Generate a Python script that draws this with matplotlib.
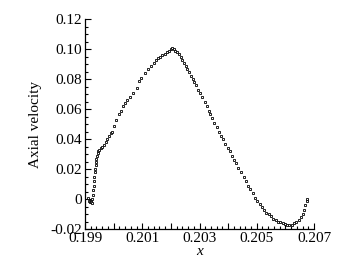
import matplotlib
matplotlib.use('Agg')
import matplotlib.pyplot as plt
from matplotlib.ticker import MultipleLocator, FixedLocator

plt.rcParams['font.family'] = ['Liberation Serif', 'DejaVu Serif']

# ── 데이터 ─────────────────────────────────────────
x_pts = [0.19912, 0.19914, 0.19917, 0.19920, 0.19922, 0.19925, 0.19926, 0.19927,
         0.19929, 0.19930, 0.19931, 0.19933, 0.19934, 0.19935, 0.19937, 0.19938,
         0.19940, 0.19942, 0.19944, 0.19947, 0.19950, 0.19955, 0.19960, 0.19966,
         0.19972, 0.19978, 0.19985, 0.19990, 0.19995, 0.20003, 0.20010, 0.20018,
         0.20025, 0.20032, 0.20040, 0.20048, 0.20057, 0.20068, 0.20080, 0.20090,
         0.20095, 0.20108, 0.20120, 0.20132, 0.20140, 0.20148, 0.20155, 0.20162,
         0.20170, 0.20178, 0.20186, 0.20193, 0.20200, 0.20205, 0.20210, 0.20216,
         0.20222, 0.20228, 0.20234, 0.20240, 0.20246, 0.20252, 0.20258, 0.20264,
         0.20270, 0.20276, 0.20282, 0.20288, 0.20295, 0.20302, 0.20310, 0.20318,
         0.20325, 0.20332, 0.20338, 0.20345, 0.20352, 0.20360, 0.20368, 0.20375,
         0.20382, 0.20390, 0.20398, 0.20405, 0.20412, 0.20420, 0.20428, 0.20436,
         0.20445, 0.20454, 0.20462, 0.20470, 0.20478, 0.20486, 0.20494, 0.20502,
         0.20510, 0.20518, 0.20526, 0.20534, 0.20542, 0.20550, 0.20558, 0.20566,
         0.20574, 0.20582, 0.20590, 0.20598, 0.20606, 0.20614, 0.20622, 0.20630,
         0.20638, 0.20646, 0.20653, 0.20660, 0.20665, 0.20670, 0.20674, 0.20677]
y_pts = [0.001, -0.001, -0.002, -0.001, -0.002, -0.0025, 0.000, 0.003,
         0.006, 0.009, 0.012, 0.015, 0.018, 0.020, 0.023, 0.025,
         0.027, 0.029, 0.031, 0.032, 0.033, 0.034, 0.035, 0.036,
         0.038, 0.040, 0.042, 0.044, 0.045, 0.049, 0.053, 0.057,
         0.059, 0.062, 0.064, 0.066, 0.068, 0.071, 0.074, 0.079,
         0.081, 0.084, 0.087, 0.089, 0.091, 0.093, 0.094, 0.095,
         0.096, 0.097, 0.098, 0.099, 0.100, 0.101, 0.100, 0.099,
         0.098, 0.097, 0.095, 0.093, 0.091, 0.089, 0.087, 0.085,
         0.082, 0.080, 0.078, 0.076, 0.073, 0.071, 0.068, 0.065,
         0.062, 0.059, 0.057, 0.054, 0.051, 0.048, 0.045, 0.042,
         0.040, 0.037, 0.034, 0.032, 0.029, 0.026, 0.024, 0.021,
         0.018, 0.015, 0.012, 0.009, 0.007, 0.004, 0.001, -0.001,
         -0.003, -0.005, -0.007, -0.009, -0.010, -0.011, -0.013, -0.014,
         -0.015, -0.0155, -0.016, -0.0165, -0.017, -0.017, -0.017, -0.016,
         -0.015, -0.014, -0.012, -0.010, -0.007, -0.004, -0.001, 0.000]

x_ticks = [0.199, 0.200, 0.201, 0.202, 0.203, 0.204, 0.205, 0.206, 0.207]
x_tick_labels = ['0.199', '', '0.201', '', '0.203', '', '0.205', '', '0.207']
y_ticks = [-0.02, 0.0, 0.02, 0.04, 0.06, 0.08, 0.10, 0.12]
y_tick_labels = ['-0.02', '0', '0.02', '0.04', '0.06', '0.08', '0.10', '0.12']

fig = plt.figure(figsize=(3.59, 2.65), dpi=100)
ax = fig.add_axes([0.2368, 0.1358, 0.6379, 0.7925])

ax.plot(x_pts, y_pts, linestyle='none', marker='s', markersize=1.7,
        markerfacecolor='white', markeredgecolor='black', markeredgewidth=0.6)

ax.set_xlim(0.199, 0.207)
ax.set_ylim(-0.02, 0.12)
ax.xaxis.set_major_locator(FixedLocator(x_ticks))
ax.set_xticklabels(x_tick_labels)
ax.xaxis.set_minor_locator(MultipleLocator(0.0002))
ax.yaxis.set_major_locator(FixedLocator(y_ticks))
ax.set_yticklabels(y_tick_labels)
ax.yaxis.set_minor_locator(MultipleLocator(0.005))

ax.tick_params(which='both', direction='in', labelsize=11, width=0.8)
ax.tick_params(which='major', length=4.5, pad=2)
ax.tick_params(which='minor', length=2.2)
ax.spines[['top', 'right']].set_visible(False)
ax.spines[['left', 'bottom']].set_linewidth(0.9)

ax.set_xlabel('x', fontsize=11, fontstyle='italic', labelpad=0)
ax.set_ylabel('Axial velocity', fontsize=11, labelpad=6)

fig.savefig('out.png', dpi=100)
